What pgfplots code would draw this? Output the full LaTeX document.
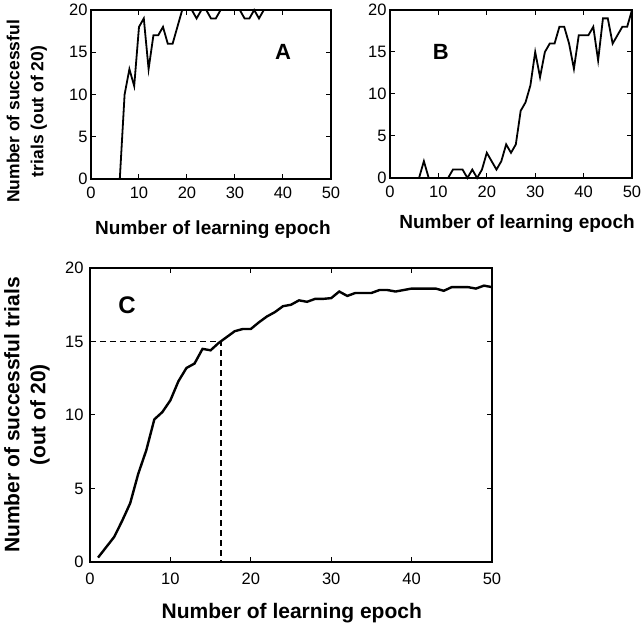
\documentclass[border=0pt]{standalone}
\usepackage{fontspec}
\setmainfont{Liberation Sans}
\usepackage{pgfplots}
\pgfplotsset{compat=1.18}
\begin{document}
\begin{tikzpicture}
\path[use as bounding box] (0pt,0pt) rectangle (641pt,627pt);
\pgfplotsset{
  every axis/.append style={
    scale only axis,
    anchor=south west,
    xmin=0,xmax=50,ymin=0,ymax=20,
    tick align=inside,
    axis line style={line width=1.3pt},
    major tick length=5pt,
    every tick/.style={line width=1pt,black},
    /pgf/number format/assume math mode=true,
    tick label style={font=\fontsize{16.5}{16.5}\selectfont},
    label style={font=\fontsize{19}{24}\selectfont\bfseries,anchor=center},
    xtick={0,10,20,30,40,50},
    ytick={0,5,10,15,20},
    clip=false,
  }
}
% Panel A
\begin{axis}[at={(91pt,448pt)},width=240pt,height=169pt,
  xlabel={Number of learning epoch},
  ylabel={Number of successful\\trials (out of 20)},
  ylabel style={align=center,font=\fontsize{17.5}{24}\selectfont\bfseries,at={(axis description cs:-0.267,0.40)}},
  xlabel style={at={(axis description cs:0.508,-0.30)}},
  xticklabel style={yshift=-4pt}]
\addplot[black,line width=1.8pt] coordinates {
(1,0)(2,0)(3,0)(4,0)(5,0)(6,0)(7,10)(8,13)(9,11)(10,18)(11,19)(12,13)(13,17)(14,17)(15,18)(16,16)(17,16)(18,18)(19,20)(20,20)(21,20)(22,19)(23,20)(24,20)(25,19)(26,19)(27,20)(28,20)(29,20)(30,20)(31,20)(32,19)(33,19)(34,20)(35,19)(36,20)(37,20)(38,20)(39,20)(40,20)(41,20)(42,20)(43,20)(44,20)(45,20)(46,20)(47,20)(48,20)(49,20)(50,20)};
\node[font=\fontsize{22}{22}\selectfont\bfseries] at (axis cs:40,15) {A};
\end{axis}
% Panel B
\begin{axis}[at={(390pt,449pt)},width=242pt,height=168pt,
  xlabel={Number of learning epoch},
  xlabel style={at={(axis description cs:0.525,-0.274)}},
  xticklabel style={yshift=-4pt}]
\addplot[black,line width=1.8pt] coordinates {
(1,0)(2,0)(3,0)(4,0)(5,0)(6,0)(7,2)(8,0)(9,0)(10,0)(11,0)(12,0)(13,1)(14,1)(15,1)(16,0)(17,1)(18,0)(19,1)(20,3)(21,2)(22,1)(23,2)(24,4)(25,3)(26,4)(27,8)(28,9)(29,11)(30,15)(31,12)(32,15)(33,16)(34,16)(35,18)(36,18)(37,16)(38,13)(39,17)(40,17)(41,17)(42,18)(43,14)(44,19)(45,19)(46,16)(47,17)(48,18)(49,18)(50,20)};
\node[font=\fontsize{22}{22}\selectfont\bfseries] at (axis cs:10.5,15) {B};
\end{axis}
% Panel C
\begin{axis}[at={(90pt,65pt)},width=402pt,height=294pt,
  label style={font=\fontsize{21}{26}\selectfont\bfseries},
  xlabel={Number of learning epoch},
  ylabel={Number of successful trials\\(out of 20)},
  ylabel style={align=center,at={(axis description cs:-0.157,0.5)}},
  xlabel style={at={(axis description cs:0.502,-0.173)}},
  xticklabel style={yshift=-7pt},
  yticklabel style={xshift=-3pt}]
\addplot[black,line width=1.5pt,dash pattern=on 6pt off 4pt] coordinates {(0,15)(16.3,15)(16.3,0)};
\addplot[black,line width=2.4pt] coordinates {
(1,0.3)(2,1.0)(3,1.7)(4,2.8)(5,4.0)(6,6.0)(7,7.6)(8,9.7)(9,10.2)(10,11.0)(11,12.3)(12,13.2)(13,13.5)(14,14.5)(15,14.4)(16,14.9)(17,15.3)(18,15.7)(19,15.85)(20,15.85)(21,16.3)(22,16.7)(23,17.0)(24,17.4)(25,17.5)(26,17.8)(27,17.7)(28,17.9)(29,17.9)(30,17.95)(31,18.4)(32,18.1)(33,18.3)(34,18.3)(35,18.3)(36,18.5)(37,18.5)(38,18.4)(39,18.5)(40,18.6)(41,18.6)(42,18.6)(43,18.6)(44,18.45)(45,18.7)(46,18.7)(47,18.7)(48,18.6)(49,18.8)(50,18.7)};
\node[font=\fontsize{24}{24}\selectfont\bfseries] at (axis cs:4.6,17.5) {C};
\end{axis}
\end{tikzpicture}
\end{document}
